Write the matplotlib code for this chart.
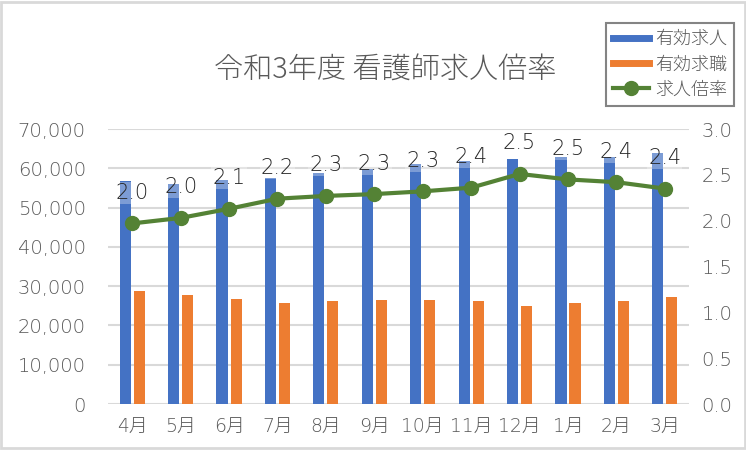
import matplotlib.pyplot as plt
import numpy as np
from matplotlib.patches import Rectangle

plt.rcParams['font.family'] = ['DejaVu Sans', 'Noto Sans CJK JP']
plt.rcParams['font.weight'] = 'light'
cjk = ['Noto Sans CJK JP', 'DejaVu Sans']

months = ['4月', '5月', '6月', '7月', '8月', '9月', '10月', '11月', '12月', '1月', '2月', '3月']
openings = [56700, 56100, 57000, 57500, 58700, 59800, 61200, 61800, 62300, 62900, 62900, 63800]
seekers = [28750, 27700, 26700, 25700, 26200, 26500, 26500, 26200, 24900, 25800, 26200, 27200]
ratio = [1.97, 2.03, 2.13, 2.24, 2.27, 2.29, 2.32, 2.36, 2.51, 2.45, 2.42, 2.35]

blue = '#4472C4'
orange = '#ED7D31'
green = '#548235'
gray = '#595959'

fig = plt.figure(figsize=(7.46, 4.5), dpi=100)
ax = fig.add_axes([0.1448, 0.1022, 0.7788, 0.6111])
ax2 = ax.twinx()

x = np.arange(len(months))
w = 0.23
ax.bar(x - 0.145, openings, w, color=blue, label='有効求人', zorder=2)
ax.bar(x + 0.145, seekers, w, color=orange, label='有効求職', zorder=2)
ax2.plot(x, ratio, color=green, lw=3, marker='o', ms=10, label='求人倍率', zorder=3)

for xi, r in zip(x, ratio):
    ax2.annotate(f'{r:.1f}', (xi, r), xytext=(0, 22), textcoords='offset points',
                 ha='center', va='center', fontsize=15, color='#262626',
                 bbox=dict(boxstyle='square,pad=0.05', fc='white', ec='none', alpha=0.3))

ax.set_xlim(-0.5, 11.5)
ax.set_ylim(0, 70000)
ax2.set_ylim(0, 3)
ax.set_yticks(np.arange(0, 70001, 10000))
ax.set_yticklabels([f'{v:,}' for v in range(0, 70001, 10000)])
ax2.set_yticks(np.arange(0, 3.01, 0.5))
ax2.set_yticklabels([f'{v:.1f}' for v in np.arange(0, 3.01, 0.5)])
ax.set_xticks(x)
ax.set_xticklabels(months)

ax.grid(axis='y', color='#d9d9d9', lw=1.5, zorder=0)
ax.set_axisbelow(True)
for a in (ax, ax2):
    for s in a.spines.values():
        s.set_visible(False)
ax.tick_params(axis='y', length=0, pad=16, labelsize=14, labelcolor=gray)
ax.tick_params(axis='x', length=0, pad=10, labelsize=13.5, labelcolor=gray)
ax2.tick_params(axis='y', length=0, pad=9, labelsize=14, labelcolor=gray)

fig.text(0.517, 0.844, '令和3年度 看護師求人倍率', ha='center', va='center',
         fontsize=21, color=gray, family=cjk)

h1, l1 = ax.get_legend_handles_labels()
h2, l2 = ax2.get_legend_handles_labels()
handles = [plt.Line2D([], [], color=blue, lw=5), plt.Line2D([], [], color=orange, lw=5), h2[0]]
leg = fig.legend(handles, l1 + l2, loc='upper right', bbox_to_anchor=(0.996, 0.969),
                 fancybox=False, edgecolor='#666666', fontsize=13, labelcolor=gray,
                 handlelength=2.0, handletextpad=0.3, borderpad=0.4, labelspacing=0.4)
leg.get_frame().set_linewidth(1.5)
for t in leg.get_texts():
    t.set_family(cjk)

fig.patches.append(Rectangle((0.002, 0.004), 0.996, 0.992, transform=fig.transFigure,
                             fill=False, edgecolor='#d9d9d9', lw=2))

fig.savefig('out.png', dpi=100)
